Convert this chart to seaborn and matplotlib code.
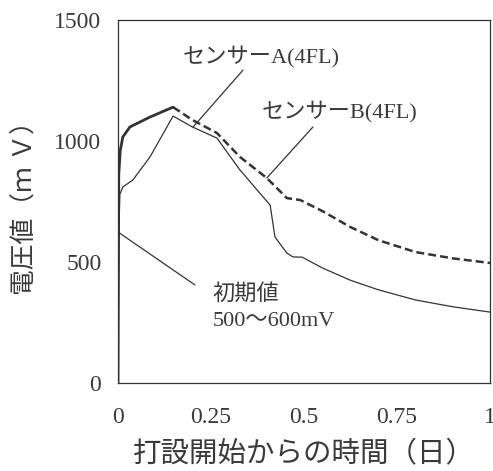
import matplotlib
matplotlib.use("Agg")
import matplotlib.pyplot as plt
import seaborn as sns
import pandas as pd

# Sensor A (thin solid)
tA = [0, 0.002, 0.005, 0.013, 0.04, 0.086, 0.148, 0.20, 0.266, 0.328, 0.409, 0.422,
      0.454, 0.47, 0.495, 0.55, 0.624, 0.70, 0.80, 0.90, 1.0]
vA = [0, 600, 780, 810, 839, 934, 1103, 1058, 1012, 880, 735, 603,
      537, 521, 520, 475, 425, 385, 343, 315, 293]
# Sensor B (thick, solid until peak then dashed)
tB_solid = [0, 0.002, 0.006, 0.013, 0.032, 0.086, 0.148]
vB_solid = [0, 860, 960, 1017, 1058, 1099, 1140]
tB_dash = [0.148, 0.20, 0.266, 0.328, 0.40, 0.454, 0.49, 0.55, 0.624, 0.70, 0.80, 0.90, 1.0]
vB_dash = [1140, 1087, 1033, 934, 847, 764, 756, 710, 645, 590, 541, 515, 496]

xticks = [0, 0.25, 0.5, 0.75, 1]
xticklabels = ["0", "0.25", "0.5", "0.75", "1"]
yticks = [0, 500, 1000, 1500]
xlabel = "打設開始からの時間（日）"
ylabel = "電圧値（ｍ Ｖ）"

sns.set_style("white")
plt.rcParams['font.family'] = ['Liberation Serif', 'Noto Sans CJK JP', 'DejaVu Sans']

TXT = "#3a3a3a"
LN = "#333333"

fig = plt.figure(figsize=(4.93, 4.71), dpi=100)
ax = fig.add_axes([118/493, 1 - 383/471, (490-118)/493, (383-20)/471])

dfA = pd.DataFrame({"t": tA, "v": vA})
dfBs = pd.DataFrame({"t": tB_solid, "v": vB_solid})
dfBd = pd.DataFrame({"t": tB_dash, "v": vB_dash})

sns.lineplot(data=dfA, x="t", y="v", ax=ax, color=LN, lw=0.9, sort=False, estimator=None)
sns.lineplot(data=dfBs, x="t", y="v", ax=ax, color=LN, lw=2.0, sort=False, estimator=None)
sns.lineplot(data=dfBd, x="t", y="v", ax=ax, color=LN, lw=1.8, sort=False, estimator=None,
             dashes=False)
ax.lines[-1].set_dashes([3.2, 1.6])

ax.set_xlim(0, 1)
ax.set_ylim(0, 1500)
ax.set_xticks(xticks)
ax.set_xticklabels(xticklabels)
ax.set_yticks(yticks)
ax.tick_params(axis="both", direction="out", length=7, width=0.9, colors=LN,
               labelsize=17, labelcolor=TXT, pad=5)
ax.tick_params(axis="x", pad=10)
for s in ax.spines.values():
    s.set_visible(True)
    s.set_color(LN)
    s.set_linewidth(0.9)

ax.set_xlabel(xlabel, fontsize=20.5, color=TXT, labelpad=10)
ax.set_ylabel(ylabel, fontsize=18.5, color=TXT, labelpad=12)

# annotations
ax.plot([0.336, 0.202], [1293, 1058], color=LN, lw=0.9)
ax.text(0.175, 1326, "センサーA(4FL)", fontsize=16, color=TXT, va="baseline")
ax.plot([0.524, 0.40], [1058, 847], color=LN, lw=0.9)
ax.text(0.387, 1099, "センサーB(4FL)", fontsize=16, color=TXT, va="baseline")
ax.plot([0.0, 0.207], [624, 405], color=LN, lw=0.9)
ax.text(0.255, 343, "初期値", fontsize=16, color=TXT, va="baseline")
ax.text(0.255, 236, "500～600mV", fontsize=16, color=TXT, va="baseline")

fig.savefig("out.png", dpi=100)
